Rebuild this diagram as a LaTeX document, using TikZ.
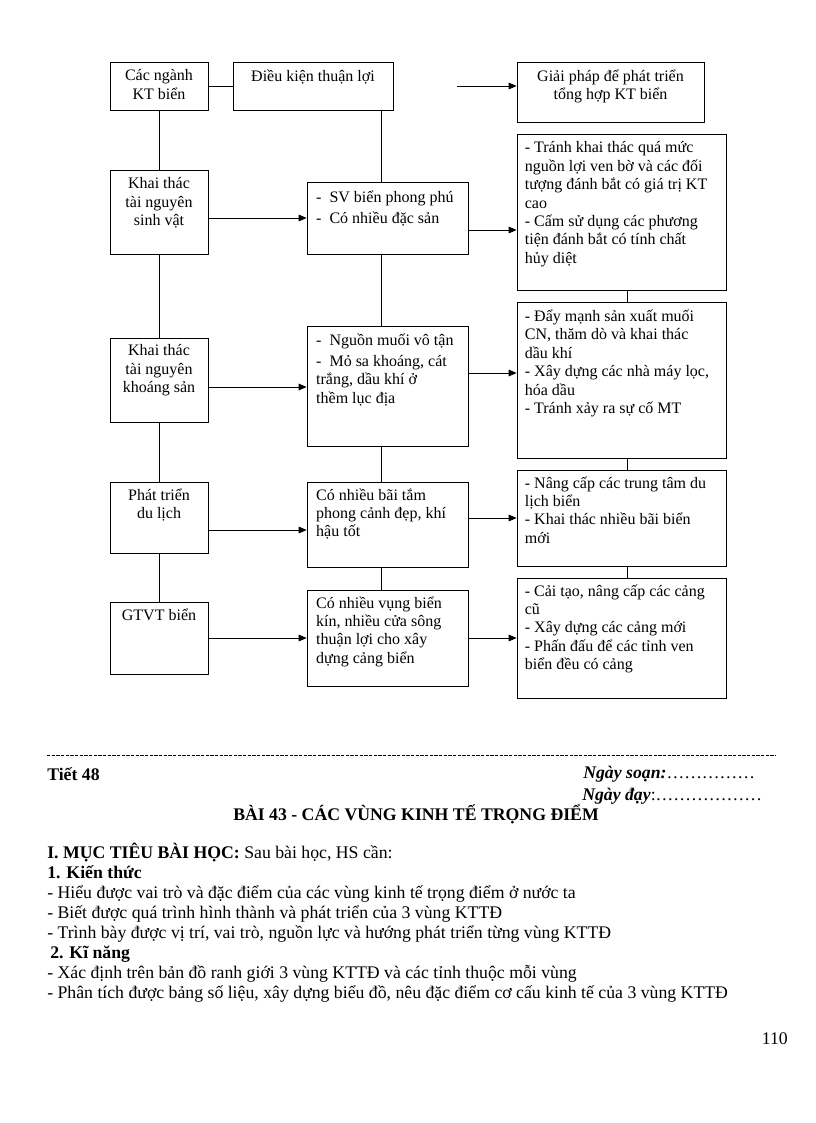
\documentclass[tikz,border=0pt]{standalone}
\usepackage{fontspec}
\setmainfont{Liberation Serif}
\usetikzlibrary{arrows.meta,positioning,fit}

\tikzset{
  box/.style={draw, line width=0.6pt, inner sep=0pt},
  txt/.style={inner sep=0pt, align=left, font=\fontsize{12}{13.8}\selectfont},
  ctxt/.style={txt, align=center},
  link/.style={line width=0.6pt},
  arr/.style={line width=0.6pt, -{Triangle[length=6pt,width=5pt]}},
  body/.style={inner sep=0pt, anchor=base west, font=\fontsize{13.3}{15}\selectfont},
  hd/.style={body, font=\fontsize{13.3}{15}\selectfont\bfseries}
}

\begin{document}
\begin{tikzpicture}[x=0.75pt, y=-0.75pt]
\useasboundingbox (0,0) rectangle (816,1123);
% boxes
\node[box, fit={(110,62) (208,110)}] (kt) {};
\node[box, fit={(233,62) (393,110)}] (dk) {};
\node[box, fit={(517,62) (704,122)}] (gp) {};
\node[box, fit={(110,170) (208,254)}] (s1) {};
\node[box, fit={(110,338) (208,422)}] (k1) {};
\node[box, fit={(110,482) (208,553)}] (d1) {};
\node[box, fit={(110,602) (208,674)}] (g1) {};
\node[box, fit={(307,182) (468,254)}] (m1) {};
\node[box, fit={(307,326) (468,446)}] (m2) {};
\node[box, fit={(307,482) (468,567)}] (m3) {};
\node[box, fit={(307,590) (468,686)}] (m4) {};
\node[box, fit={(517,134) (726,290)}] (r1) {};
\node[box, fit={(517,302) (726,458)}] (r2) {};
\node[box, fit={(517,470) (726,566)}] (r3) {};
\node[box, fit={(517,578) (726,698)}] (r4) {};
% texts in the boxes
\node[ctxt, below=6pt of kt.north] (ktt) {Các ngành\\KT biển};
\node[ctxt, below=6pt of dk.north] (dkt) {Điều kiện thuận lợi};
\node[ctxt, below=6pt of gp.north] (gpt) {Giải pháp để phát triển\\tổng hợp KT biển};
\node[ctxt, below=6pt of s1.north] (s1t) {Khai thác\\tài nguyên\\sinh vật};
\node[ctxt, below=5pt of k1.north] (k1t) {Khai thác\\tài nguyên\\khoáng sản};
\node[ctxt, below=5pt of d1.north] (d1t) {Phát triển\\du lịch};
\node[ctxt, below=5pt of g1.north] (g1t) {GTVT biển};
\node[txt, below right=7pt and 7pt of m1.north west] (m1t) {-\enspace SV biển phong phú\\[2pt]-\enspace Có nhiều đặc sản};
\node[txt, below right=6pt and 7pt of m2.north west] (m2t) {-\enspace Nguồn muối vô tận\\[2pt]-\enspace Mỏ sa khoáng, cát\\trắng, dầu khí ở\\thềm lục địa};
\node[txt, below right=5pt and 7pt of m3.north west] (m3t) {Có nhiều bãi tắm\\phong cảnh đẹp, khí\\hậu tốt};
\node[txt, below right=5pt and 7pt of m4.north west] (m4t) {Có nhiều vụng biển\\kín, nhiều cửa sông\\thuận lợi cho xây\\dựng cảng biển};
\node[txt, below right=6pt and 6pt of r1.north west] (r1t) {- Tránh khai thác quá mức\\nguồn lợi ven bờ và các đối\\tượng đánh bắt có giá trị KT\\cao\\- Cấm sử dụng các phương\\tiện đánh bắt có tính chất\\hủy diệt};
\node[txt, below right=6pt and 6pt of r2.north west] (r2t) {- Đẩy mạnh sản xuất muối\\CN, thăm dò và khai thác\\dầu khí\\- Xây dựng các nhà máy lọc,\\hóa dầu\\- Tránh xảy ra sự cố MT};
\node[txt, below right=5pt and 6pt of r3.north west] (r3t) {- Nâng cấp các trung tâm du\\lịch biển\\- Khai thác nhiều bãi biển\\mới};
\node[txt, below right=5pt and 6pt of r4.north west] (r4t) {- Cải tạo, nâng cấp các cảng\\cũ\\- Xây dựng các cảng mới\\- Phấn đấu để các tỉnh ven\\biển đều có cảng};
% connectors
\coordinate (mx) at (381,0);
\coordinate (rx) at (627,0);
\coordinate (gs) at (457,86);
\draw[link] (kt) -- (dk);
\draw[arr] (gs) -- (gs -| gp.west);
\foreach \a/\b in {kt/s1, s1/k1, k1/d1, d1/g1}
  \draw[link] (\a.south) -- (\b.north);
\foreach \a/\b in {dk/m1, m1/m2, m2/m3, m3/m4}
  \draw[link] (\a.south -| mx) -- (\b.north -| mx);
\foreach \a/\b in {r1/r2, r2/r3, r3/r4}
  \draw[link] (\a.south -| rx) -- (\b.north -| rx);
\foreach \a/\b/\y in {s1/m1/218, k1/m2/387, d1/m3/530, g1/m4/638}
  \draw[arr] (\a.east |- 0,\y) -- (\b.west |- 0,\y);
\foreach \a/\b/\y in {m1/r1/230, m2/r2/373, m3/r3/518, m4/r4/638}
  \draw[arr] (\a.east |- 0,\y) -- (\b.west |- 0,\y);
% lesson page
\draw[dash pattern=on 2.5pt off 1pt, line width=0.5pt] (47,755) -- (776,755);
\node[hd] (tiet) at (47,780) {Tiết 48};
\node[body] (soan) at (583,778) {\textbf{\textit{Ngày soạn:}}……………};
\node[body] (day) at (582,800) {\textbf{\textit{Ngày đạy}}:………………};
\node[hd] (bai) at (233,820) {BÀI 43 - CÁC VÙNG KINH TẾ TRỌNG ĐIỂM};
\node[body] (muc) at (47,858) {\textbf{I. MỤC TIÊU BÀI HỌC:} Sau bài học, HS cần:};
\node[hd] (kthuc) at (47,878) {1. Kiến thức};
\node[body] (l1) at (47,898) {- Hiểu được vai trò và đặc điểm của các vùng kinh tế trọng điểm ở nước ta};
\node[body] (l2) at (47,918) {- Biết được quá trình hình thành và phát triển của 3 vùng KTTĐ};
\node[body] (l3) at (47,938) {- Trình bày được vị trí, vai trò, nguồn lực và hướng phát triển từng vùng KTTĐ};
\node[hd] (knang) at (50,958) {2. Kĩ năng};
\node[body] (l4) at (47,978) {- Xác định trên bản đồ ranh giới 3 vùng KTTĐ và các tỉnh thuộc mỗi vùng};
\node[body] (l5) at (47,998) {- Phân tích được bảng số liệu, xây dựng biểu đồ, nêu đặc điểm cơ cấu kinh tế của 3 vùng KTTĐ};
\node[body, anchor=base east] (trang) at (788,1044) {110};
\end{tikzpicture}
\end{document}
